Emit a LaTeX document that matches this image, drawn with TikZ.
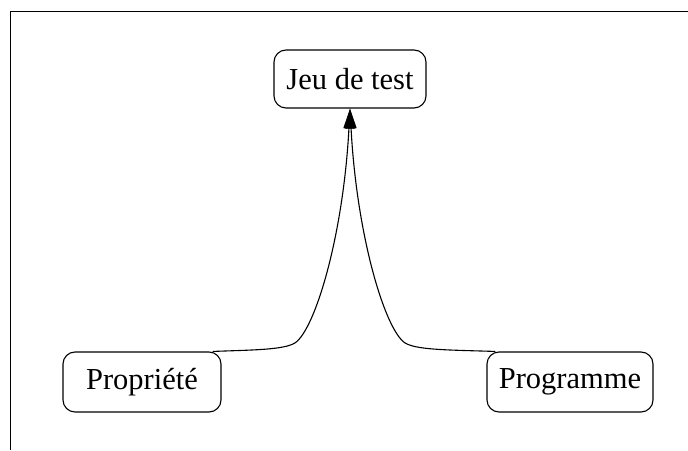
\documentclass[tikz,border=0pt]{standalone}
\usepackage{fontspec}
\setmainfont{Liberation Serif}
\usetikzlibrary{arrows.meta}
\begin{document}
\begin{tikzpicture}[x=1pt,y=1pt,
  box/.style={draw, line width=1.1pt, rounded corners=12pt, inner sep=0pt,
    font=\fontsize{30.5}{35}\selectfont},
  link/.style={line width=1.1pt, -{Triangle[length=20pt,width=11pt]}},
  frame/.style={line width=1.5pt}]
\useasboundingbox (0,0) rectangle (688,450);
\draw[frame] (10.5,0) -- (10.5,438.5) -- (688,438.5);
\node[box, minimum width=152pt, minimum height=58pt] (jeu) at (350,371) {Jeu de test};
\node[box, minimum width=158pt, minimum height=60pt] (prop) at (142,68) {Propriété};
\node[box, minimum width=166pt, minimum height=60pt] (prog) at (570,68) {Programme};
\coordinate (lb) at (293,106);
\coordinate (rb) at (407,106);
\draw[link] ([xshift=-9pt]prop.north east) .. controls (250,100) and (280,100) .. (lb)
  .. controls (313,114) and (343,210) .. (jeu.south);
\draw[link] ([xshift=9pt]prog.north west) .. controls (450,100) and (420,100) .. (rb)
  .. controls (387,114) and (357,210) .. (jeu.south);
\end{tikzpicture}
\end{document}
